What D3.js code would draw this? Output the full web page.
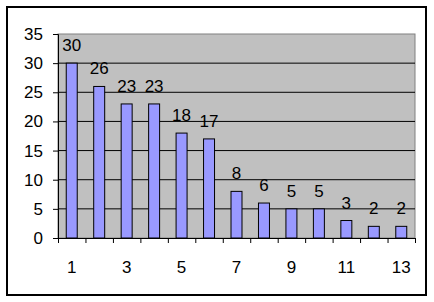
<!DOCTYPE html>
<html>
<head>
<meta charset="utf-8">
<script src="https://cdn.jsdelivr.net/npm/d3@7"></script>
<style>
  body { margin: 0; background: #fff; }
  text { font-family: "Liberation Sans", Arial, sans-serif; }
</style>
</head>
<body>
<div class="canvas"></div>
<script>
const WIDTH = 434;
const HEIGHT = 302;

// data
const categories = [1, 2, 3, 4, 5, 6, 7, 8, 9, 10, 11, 12, 13];
const values = [30, 26, 23, 23, 18, 17, 8, 6, 5, 5, 3, 2, 2];
const yTicks = [0, 5, 10, 15, 20, 25, 30, 35];
const xTickLabels = [1, 3, 5, 7, 9, 11, 13];

const plot = { left: 58, top: 34, right: 415, bottom: 238 };
const graphWidth = plot.right - plot.left;
const graphHeight = plot.bottom - plot.top;

// colors
const plotBg = '#c0c0c0';
const barFill = '#9999ff';

const svg = d3.select('.canvas')
  .append('svg')
    .attr('width', WIDTH)
    .attr('height', HEIGHT);

// chart border
svg.append('rect')
  .attr('x', 7).attr('y', 7)
  .attr('width', 419).attr('height', 288)
  .attr('fill', '#fff')
  .attr('stroke', '#000')
  .attr('stroke-width', 2);

const graph = svg.append('g')
  .attr('transform', `translate(${plot.left}, ${plot.top})`);

// scales
const x = d3.scaleBand()
  .domain(categories)
  .range([0, graphWidth])
  .paddingInner(0.6)
  .paddingOuter(0.3);

const xEdge = d3.scaleLinear()
  .domain([0, categories.length])
  .range([0, graphWidth]);

const y = d3.scaleLinear()
  .domain([0, 35])
  .range([graphHeight, 0]);

// plot area
graph.append('rect')
  .attr('width', graphWidth)
  .attr('height', graphHeight)
  .attr('fill', plotBg)
  .attr('stroke', '#808080')
  .attr('stroke-width', 1);

// gridlines
graph.append('g')
  .selectAll('line')
  .data(yTicks.filter(d => d > 0 && d < 35))
  .enter().append('line')
    .attr('x1', 0)
    .attr('x2', graphWidth)
    .attr('y1', d => y(d))
    .attr('y2', d => y(d))
    .attr('stroke', '#000')
    .attr('stroke-width', 1);

// bars
graph.selectAll('rect.bar')
  .data(values)
  .enter().append('rect')
    .attr('class', 'bar')
    .attr('x', (d, i) => x(categories[i]))
    .attr('y', d => y(d))
    .attr('width', x.bandwidth())
    .attr('height', d => graphHeight - y(d))
    .attr('fill', barFill)
    .attr('stroke', '#000')
    .attr('stroke-width', 1);

// value labels
graph.selectAll('text.val')
  .data(values)
  .enter().append('text')
    .attr('class', 'val')
    .attr('x', (d, i) => x(categories[i]) + x.bandwidth() / 2)
    .attr('y', d => y(d) - 12)
    .attr('text-anchor', 'middle')
    .attr('font-size', 17)
    .attr('fill', '#000')
    .text(d => d);

// y axis
const yAxis = d3.axisLeft(y)
  .tickValues(yTicks)
  .tickSize(5)
  .tickPadding(10);

const yAxisGroup = graph.append('g').call(yAxis);
yAxisGroup.select('.domain').attr('stroke', '#000');
yAxisGroup.selectAll('text')
  .attr('font-size', 17)
  .attr('font-family', '"Liberation Sans", Arial, sans-serif')
  .attr('fill', '#000');

// x axis: ticks at category boundaries, labels on odd categories
const xAxisGroup = graph.append('g')
  .attr('transform', `translate(0, ${graphHeight})`);

xAxisGroup.call(d3.axisBottom(xEdge)
  .tickValues(d3.range(categories.length + 1))
  .tickSize(5)
  .tickSizeOuter(0)
  .tickFormat(''));
xAxisGroup.select('.domain').attr('stroke', '#000');

xAxisGroup.selectAll('text.lbl')
  .data(xTickLabels)
  .enter().append('text')
    .attr('class', 'lbl')
    .attr('x', d => x(d) + x.bandwidth() / 2)
    .attr('y', 35)
    .attr('text-anchor', 'middle')
    .attr('font-size', 17)
    .attr('fill', '#000')
    .text(d => d);
</script>
</body>
</html>
